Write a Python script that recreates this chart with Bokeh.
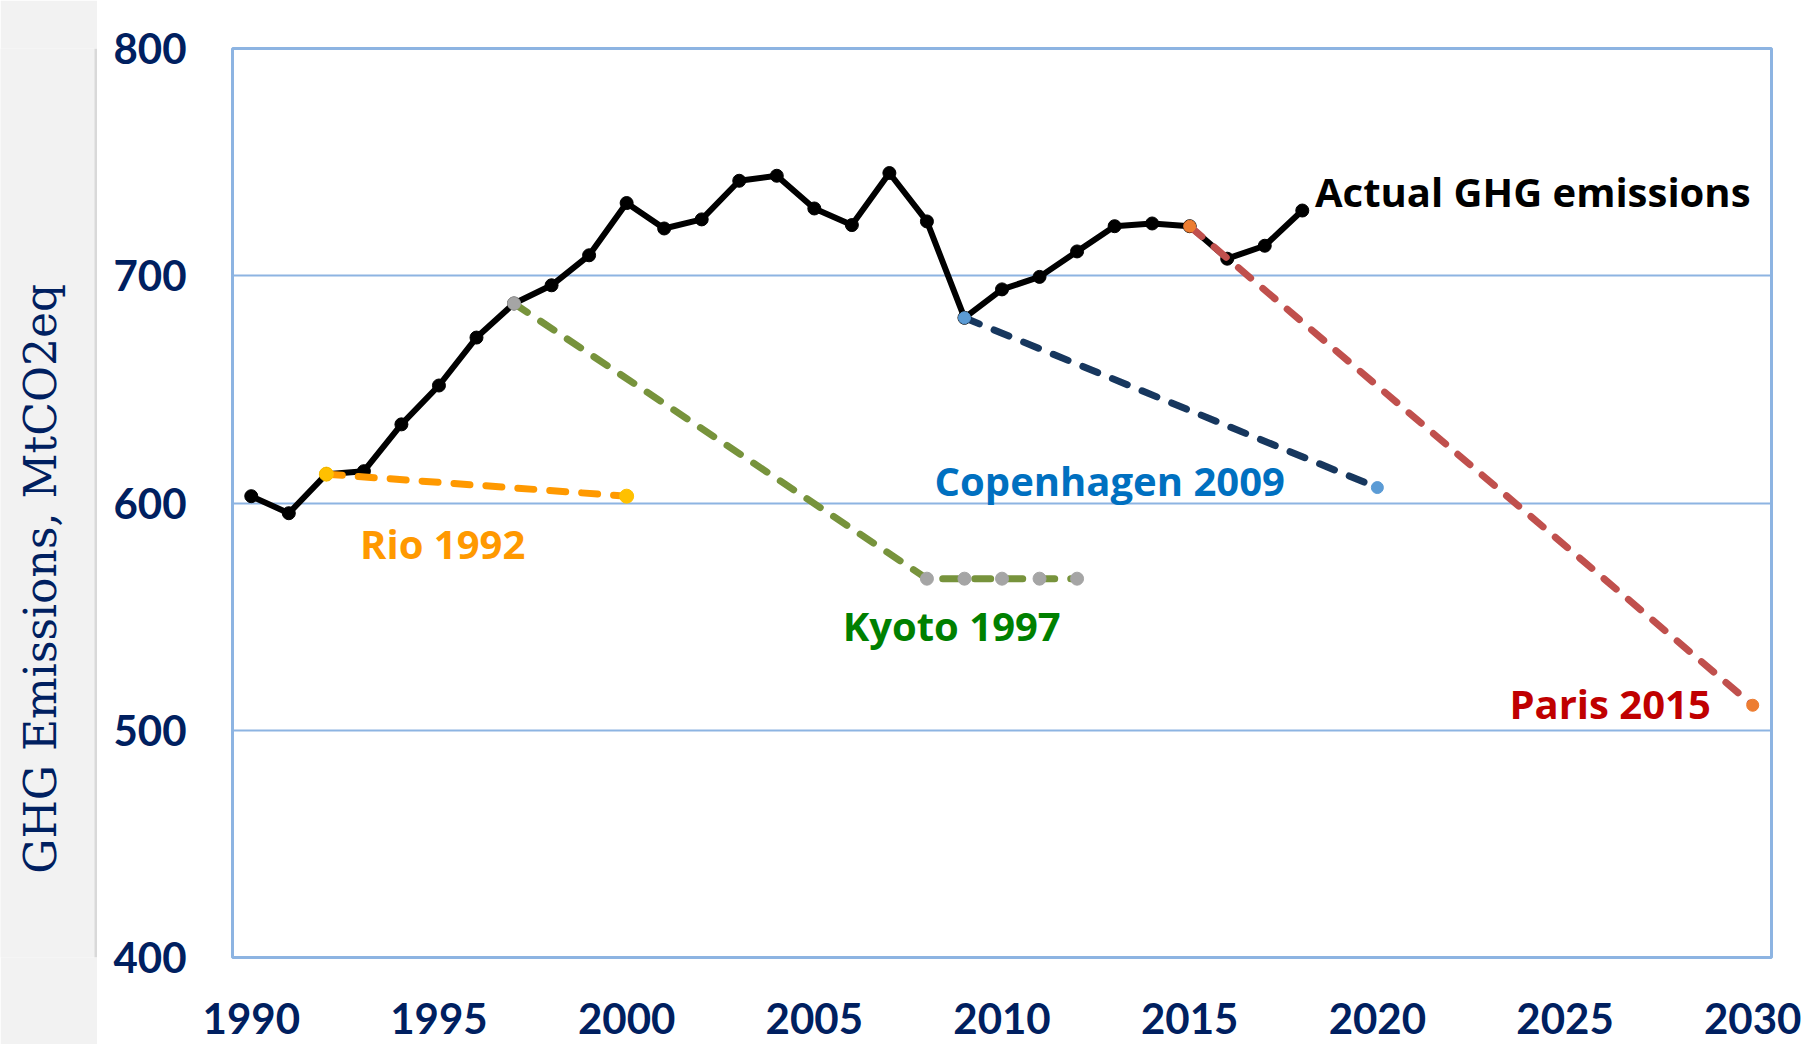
from bokeh.plotting import figure
from bokeh.models import Range1d, FixedTicker, Label
from bokeh.layouts import row
from bokeh.embed import file_html
from bokeh.resources import INLINE
import math

# ---- data ----
years = list(range(1990, 2019))
actual = [603, 595.5, 612.7, 614, 634.6, 651.7, 672.8, 687.8, 695.8, 709,
          732, 720.8, 724.8, 741.8, 744, 729.6, 722.3, 745.2, 723.9, 681.5,
          694, 699.5, 710.7, 721.8, 723, 721.8, 707.5, 713.2, 728.7]

rio_years = [1992, 2000]
rio_vals = [612.7, 603]

kyoto_years = [1997, 2008, 2009, 2010, 2011, 2012]
kyoto_vals = [687.8, 566.7, 566.7, 566.7, 566.7, 566.7]

copen_years = [2009, 2020]
copen_vals = [681.5, 606.8]

paris_years = [2015, 2030]
paris_vals = [721.8, 511]

x_ticks = [1990, 1995, 2000, 2005, 2010, 2015, 2020, 2025, 2030]
y_ticks = [400, 500, 600, 700, 800]

label_texts = ["Rio 1992", "Kyoto 1997", "Copenhagen 2009", "Paris 2015", "Actual GHG emissions"]
y_title = "GHG Emissions, MtCO2eq"

# ---- styling ----
NAVY = "#002060"
GRID = "#8DB4E2"
TICK_FONT = "Lato"
LABEL_FONT = "Open Sans"

p = figure(width=1704, height=1044,
           x_range=Range1d(1989.5, 2030.5), y_range=Range1d(400, 800),
           output_backend="svg", toolbar_location=None,
           min_border_left=135, min_border_right=30,
           min_border_top=48, min_border_bottom=87,
           background_fill_color="white", border_fill_color="white")

p.outline_line_color = GRID
p.outline_line_width = 3
p.xgrid.visible = False
p.ygrid.grid_line_color = GRID
p.ygrid.grid_line_width = 2
p.ygrid.ticker = FixedTicker(ticks=y_ticks)

for ax in (p.xaxis[0], p.yaxis[0]):
    ax.axis_line_color = None
    ax.major_tick_line_color = None
    ax.minor_tick_line_color = None
    ax.major_tick_in = 0
    ax.major_tick_out = 0
    ax.major_label_text_font = TICK_FONT
    ax.major_label_text_font_style = "bold"
    ax.major_label_text_font_size = "42px"
    ax.major_label_text_color = NAVY

p.xaxis[0].ticker = FixedTicker(ticks=x_ticks)
p.yaxis[0].ticker = FixedTicker(ticks=y_ticks)
p.xaxis[0].major_label_standoff = 45
p.yaxis[0].major_label_standoff = 46

# actual emissions
p.line(years, actual, line_color="black", line_width=6, line_join="round")
p.scatter(years, actual, size=13, fill_color="black", line_color="black")

dash = "16 16"
lw = 7
p.line(rio_years, rio_vals, line_color="#FF9900", line_width=lw, line_dash=dash, line_cap="round")
p.line(kyoto_years, kyoto_vals, line_color="#77933C", line_width=lw, line_dash=dash, line_cap="round")
p.line(copen_years, copen_vals, line_color="#17375E", line_width=lw, line_dash=dash, line_cap="round")
p.line(paris_years, paris_vals, line_color="#C0504D", line_width=lw, line_dash=dash, line_cap="round")

p.scatter(rio_years, rio_vals, size=14, fill_color="#FFC000", line_color="#FFC000")
p.scatter(kyoto_years, kyoto_vals, size=13, fill_color="#A5A5A5", line_color="#A5A5A5")
p.scatter(copen_years, copen_vals, size=12, fill_color="#5B9BD5", line_color="#5B9BD5")
p.scatter(paris_years, paris_vals, size=12, fill_color="#ED7D31", line_color="#ED7D31")

label_x = [1995.1, 2008.66, 2012.87, 2026.2, 2024.14]
label_y = [582.3, 546.3, 609.9, 511.6, 737.0]
label_colors = ["#FF9900", "#008000", "#0070C0", "#C00000", "black"]
for t, lx, ly, c in zip(label_texts, label_x, label_y, label_colors):
    p.add_layout(Label(x=lx, y=ly, text=t, text_color=c, text_font=LABEL_FONT,
                       text_font_style="bold", text_font_size="40px",
                       text_align="center", text_baseline="alphabetic"))

# left grey strip with the y-axis title (data units = page pixels)
left = figure(width=97, height=1044, x_range=Range1d(0, 97), y_range=Range1d(1044, 0),
              output_backend="svg", toolbar_location=None,
              x_axis_location=None, y_axis_location=None,
              min_border=0, background_fill_color="#F2F2F2",
              border_fill_color="#F2F2F2")
left.outline_line_color = None
left.grid.visible = False
left.add_layout(Label(x=40, y=609, text=y_title, angle=math.pi / 2, text_color=NAVY,
                      text_font="DejaVu Serif", text_font_size="44px",
                      text_align="center", text_baseline="alphabetic"))
left.segment(x0=[95.5], y0=[0], x1=[95.5], y1=[1044], line_color="#D9D9D9", line_width=3)

layout = row(left, p)
open("out.html", "w").write(file_html(layout, INLINE))
